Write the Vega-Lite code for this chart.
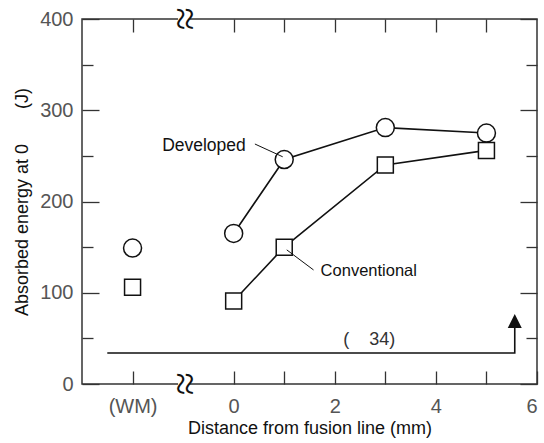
{
  "$schema": "https://vega.github.io/schema/vega-lite/v6.json",
  "width": 455,
  "height": 365,
  "autosize": "none",
  "padding": {"left": 82, "top": 19, "right": 7, "bottom": 59},
  "background": "white",
  "config": {
    "view": {"stroke": "#333", "strokeWidth": 1.5},
    "axis": {
      "labelFont": "Liberation Sans", "labelFontSize": 20, "labelColor": "#555",
      "titleFont": "Liberation Sans", "titleFontWeight": "normal", "titleFontSize": 18, "titleColor": "#111",
      "tickColor": "#333", "tickWidth": 1.3, "grid": false, "domain": false
    }
  },
  "datasets": {
    "meas": [
      {"series": "Developed", "x": -2, "y": 149},
      {"series": "Developed", "x": 0, "y": 165},
      {"series": "Developed", "x": 1, "y": 246},
      {"series": "Developed", "x": 3, "y": 281},
      {"series": "Developed", "x": 5, "y": 275},
      {"series": "Conventional", "x": -2, "y": 106},
      {"series": "Conventional", "x": 0, "y": 91},
      {"series": "Conventional", "x": 1, "y": 150},
      {"series": "Conventional", "x": 3, "y": 240},
      {"series": "Conventional", "x": 5, "y": 256}
    ],
    "arrow": [
      {"x": -2.5, "y": 34, "o": 1},
      {"x": 5.56, "y": 34, "o": 2},
      {"x": 5.56, "y": 64, "o": 3}
    ],
    "head": [{"x": 5.56, "y": 69}],
    "labels": [
      {"t": "Developed", "x": 0.24, "y": 261},
      {"t": "Conventional", "x": 1.72, "y": 124},
      {"t": "(\u00a0\u00a0\u00a0\u00a034)", "x": 2.68, "y": 48.5}
    ],
    "leaders": [
      {"g": "d", "x": 0.42, "y": 263},
      {"g": "d", "x": 0.97, "y": 249},
      {"g": "c", "x": 1.05, "y": 147},
      {"g": "c", "x": 1.58, "y": 125}
    ],
    "breaks": [{"x": -0.99, "xl": -1.1, "xr": -0.88, "y": 0}, {"x": -0.99, "xl": -1.1, "xr": -0.88, "y": 400}]
  },
  "layer": [
    {
      "data": {"name": "breaks"},
      "mark": {"type": "rule", "color": "white", "strokeWidth": 4},
      "encoding": {
        "x": {"field": "xl", "type": "quantitative", "axis": null, "scale": {"domain": [-3, 6], "nice": false, "zero": false}},
        "x2": {"field": "xr"},
        "y": {"field": "y", "type": "quantitative", "axis": null, "scale": {"domain": [0, 400], "nice": false, "zero": false}}
      }
    },
    {
      "data": {"name": "meas"},
      "transform": [{"filter": "datum.x >= 0"}],
      "mark": {"type": "line", "color": "#111", "strokeWidth": 1.6},
      "encoding": {
        "x": {"field": "x", "type": "quantitative",
          "axis": {"orient": "bottom", "values": [-2, 0, 1, 2, 3, 4, 5, 6], "tickSize": -13,
            "labelExpr": "datum.value == -2 ? '(WM)' : (datum.value % 2 == 0 ? datum.label : '')",
            "labelPadding": 25, "title": "Distance from fusion line (mm)", "titlePadding": 3}},
        "y": {"field": "y", "type": "quantitative",
          "axis": {"orient": "left", "values": [0, 50, 100, 150, 200, 250, 300, 350, 400],
            "tickSize": {"condition": {"test": "datum.value % 100 == 0", "value": -17}, "value": -11},
            "labelExpr": "datum.value % 100 == 0 ? datum.label : ''",
            "labelPadding": 26, "title": "Absorbed energy at 0\u00a0\u00a0\u00a0\u00a0\u00a0\u00a0 (J)", "titlePadding": 8}},
        "detail": {"field": "series"}
      }
    },
    {
      "data": {"name": "meas"},
      "mark": {"type": "point", "filled": true, "fill": "white", "stroke": "#111", "strokeWidth": 1.5, "opacity": 1},
      "encoding": {
        "x": {"field": "x", "type": "quantitative",
          "axis": {"orient": "top", "values": [-2, 0, 1, 2, 3, 4, 5], "tickSize": -13, "labels": false, "title": null}},
        "y": {"field": "y", "type": "quantitative",
          "axis": {"orient": "right", "values": [0, 50, 100, 150, 200, 250, 300, 350, 400],
            "tickSize": {"condition": {"test": "datum.value % 100 == 0", "value": -17}, "value": -11},
            "labels": false, "title": null}},
        "shape": {"field": "series", "type": "nominal", "scale": {"domain": ["Developed", "Conventional"], "range": ["circle", "square"]}, "legend": null},
        "size": {"field": "series", "type": "nominal", "scale": {"domain": ["Developed", "Conventional"], "range": [324, 256]}, "legend": null}
      }
    },
    {
      "data": {"name": "arrow"},
      "mark": {"type": "line", "color": "#111", "strokeWidth": 1.6},
      "encoding": {
        "x": {"field": "x", "type": "quantitative", "axis": null},
        "y": {"field": "y", "type": "quantitative", "axis": null},
        "order": {"field": "o"}
      }
    },
    {
      "data": {"name": "head"},
      "mark": {"type": "point", "shape": "M-1,1L1,1L0,-1Z", "size": 196, "filled": true, "color": "#111", "opacity": 1},
      "encoding": {
        "x": {"field": "x", "type": "quantitative", "axis": null},
        "y": {"field": "y", "type": "quantitative", "axis": null}
      }
    },
    {
      "data": {"name": "leaders"},
      "mark": {"type": "line", "color": "#111", "strokeWidth": 1},
      "encoding": {
        "x": {"field": "x", "type": "quantitative", "axis": null},
        "y": {"field": "y", "type": "quantitative", "axis": null},
        "detail": {"field": "g"}
      }
    },
    {
      "data": {"name": "labels"},
      "transform": [{"filter": "datum.t == 'Developed'"}],
      "mark": {"type": "text", "font": "Liberation Sans", "fontSize": 17.5, "color": "#111", "baseline": "middle", "align": "right"},
      "encoding": {
        "x": {"field": "x", "type": "quantitative", "axis": null},
        "y": {"field": "y", "type": "quantitative", "axis": null},
        "text": {"field": "t"}
      }
    },
    {
      "data": {"name": "labels"},
      "transform": [{"filter": "datum.t == 'Conventional'"}],
      "mark": {"type": "text", "font": "Liberation Sans", "fontSize": 16.5, "color": "#111", "baseline": "middle", "align": "left"},
      "encoding": {
        "x": {"field": "x", "type": "quantitative", "axis": null},
        "y": {"field": "y", "type": "quantitative", "axis": null},
        "text": {"field": "t"}
      }
    },
    {
      "data": {"name": "labels"},
      "transform": [{"filter": "indexof(datum.t, '34') >= 0"}],
      "mark": {"type": "text", "font": "Liberation Sans", "fontSize": 18, "color": "#333", "baseline": "middle", "align": "center"},
      "encoding": {
        "x": {"field": "x", "type": "quantitative", "axis": null},
        "y": {"field": "y", "type": "quantitative", "axis": null},
        "text": {"field": "t"}
      }
    },
    {
      "data": {"name": "breaks"},
      "mark": {"type": "text", "text": "≈", "angle": 90, "font": "DejaVu Sans", "fontWeight": 200, "fontSize": 42, "color": "#111", "baseline": "middle", "align": "center"},
      "encoding": {
        "x": {"field": "x", "type": "quantitative", "axis": null},
        "y": {"field": "y", "type": "quantitative", "axis": null}
      }
    }
  ],
  "resolve": {"axis": {"x": "independent", "y": "independent"}}
}
